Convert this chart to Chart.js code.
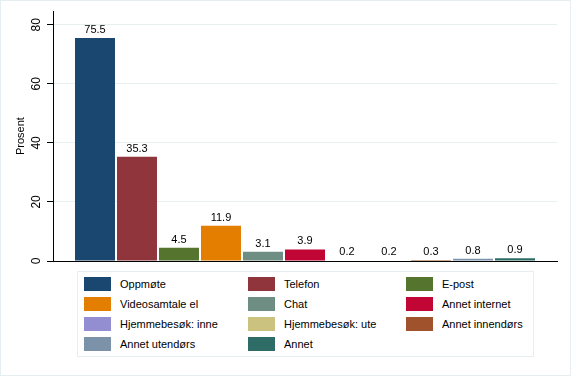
<!DOCTYPE html>
<html>
<head>
<meta charset="utf-8">
<script src="https://cdn.jsdelivr.net/npm/chart.js@4.4.1/dist/chart.umd.min.js"></script>
<style>
  html, body { margin: 0; padding: 0; background: #fff; }
  #wrap { position: relative; width: 572px; height: 378px; overflow: hidden; font-family: "Liberation Sans", Arial, sans-serif; }
  #frame { position: absolute; left: 0; top: 0; width: 571px; height: 376px; box-sizing: border-box; border: 1px solid #e6eef1; pointer-events: none; }
  #c { position: absolute; left: 0; top: 0; }
  #legend { position: absolute; left: 77px; top: 271px; width: 457px; height: 86px; box-sizing: border-box;
            border: 1px solid #e6eef1; background: #fff; }
  .item { position: absolute; height: 14px; font-size: 11px; color: #000; white-space: nowrap; }
  .sw { position: absolute; left: 0; top: 0; width: 27px; height: 14px; }
  .tx { position: absolute; left: 36px; top: 0; line-height: 14px; }
</style>
</head>
<body>
<div id="wrap">
  <canvas id="c" width="572" height="378"></canvas>
  <div id="legend"></div>
  <div id="frame"></div>
</div>
<script>
const categories = ["Oppmøte", "Telefon", "E-post", "Videosamtale el", "Chat", "Annet internet",
                    "Hjemmebesøk: inne", "Hjemmebesøk: ute", "Annet innendørs", "Annet utendørs", "Annet"];
const values = [75.5, 35.3, 4.5, 11.9, 3.1, 3.9, 0.2, 0.2, 0.3, 0.8, 0.9];
const colors = ["#1a476f", "#90353b", "#55752f", "#e37e00", "#6e8e84", "#c10534",
                "#938dd2", "#cac27e", "#a0522d", "#7b92a8", "#2d6d66"];
const yTicks = [0, 20, 40, 60, 80];
const yTitle = "Prosent";

Chart.defaults.font.family = '"Liberation Sans", Arial, sans-serif';
Chart.defaults.color = '#000';

const datasets = categories.map((name, i) => ({
  label: name,
  data: [values[i]],
  backgroundColor: colors[i],
  borderWidth: 0,
  categoryPercentage: 0.9167,
  barPercentage: 0.952
}));

const valueLabels = {
  id: 'valueLabels',
  afterDatasetsDraw(chart) {
    const ctx = chart.ctx;
    ctx.save();
    ctx.font = '11px "Liberation Sans", Arial, sans-serif';
    ctx.fillStyle = '#000';
    ctx.textAlign = 'center';
    ctx.textBaseline = 'alphabetic';
    chart.data.datasets.forEach((ds, i) => {
      const meta = chart.getDatasetMeta(i);
      meta.data.forEach((el, j) => {
        ctx.fillText(ds.data[j].toFixed(1), el.x, el.y - 5);
      });
    });
    ctx.restore();
  }
};

new Chart(document.getElementById('c'), {
  type: 'bar',
  data: { labels: [''], datasets },
  options: {
    responsive: false,
    animation: false,
    devicePixelRatio: 1,
    layout: { padding: { left: 0, right: 15, top: 2, bottom: 117 } },
    plugins: { legend: { display: false }, tooltip: { enabled: false } },
    scales: {
      x: {
        z: 1,
        grid: { display: false },
        border: { display: true, color: '#000', width: 1 },
        ticks: { display: false },
        afterFit(s) { s.height = 0; }
      },
      y: {
        min: 0,
        max: 84.6,
        afterBuildTicks(s) { s.ticks = yTicks.map(v => ({ value: v })); },
        afterFit(s) { s.width = 53; },
        grid: {
          color: c => (c.tick && c.tick.value === 0) ? 'rgba(0,0,0,0)' : '#e8eff1',
          tickColor: '#000',
          tickLength: 6,
          lineWidth: 1
        },
        border: { display: true, color: '#000', width: 1 },
        ticks: {
          font: { size: 12 },
          color: '#000',
          minRotation: 90,
          maxRotation: 90,
          crossAlign: 'center',
          padding: 4
        },
        title: {
          display: true,
          text: yTitle,
          font: { size: 11 },
          color: '#000',
          padding: { top: 14, bottom: 0 }
        }
      }
    }
  },
  plugins: [valueLabels]
});

// HTML legend, 3 columns
const legend = document.getElementById('legend');
const colLeft = [6, 170, 328];
categories.forEach((name, i) => {
  const row = Math.floor(i / 3), col = i % 3;
  const item = document.createElement('div');
  item.className = 'item';
  item.style.left = colLeft[col] + 'px';
  item.style.top = (5 + row * 20) + 'px';
  const sw = document.createElement('div');
  sw.className = 'sw';
  sw.style.background = colors[i];
  const tx = document.createElement('div');
  tx.className = 'tx';
  tx.textContent = name;
  item.appendChild(sw);
  item.appendChild(tx);
  legend.appendChild(item);
});
</script>
</body>
</html>
